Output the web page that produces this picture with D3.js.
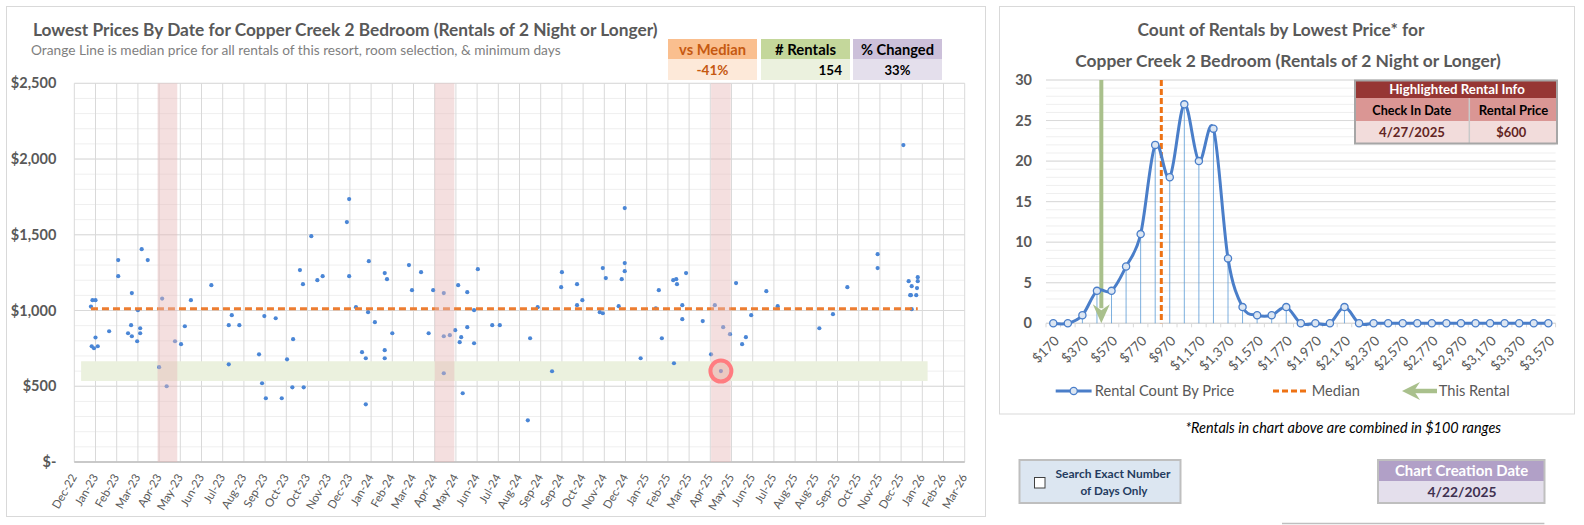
<!DOCTYPE html>
<html><head><meta charset="utf-8">
<script src="https://cdn.jsdelivr.net/npm/d3@7"></script>
<style>
html,body{margin:0;padding:0;background:#fff;}
svg{display:block;font-family:Lato,"Open Sans",sans-serif;}
</style></head><body>
<svg id="c" width="1584" height="525"></svg>
<script>
// ---------------- DATA ----------------
const rentalDates = [
"2023-01-16","2023-01-18","2023-01-22","2023-01-17","2023-01-20","2023-01-22","2023-01-25","2023-02-09","2023-02-21","2023-02-21",
"2023-03-06","2023-03-10","2023-03-11","2023-03-11","2023-03-18","2023-03-19","2023-03-22","2023-03-22","2023-03-24","2023-04-01",
"2023-04-16","2023-04-20","2023-04-26","2023-05-07","2023-05-15","2023-05-20","2023-05-28","2023-06-24","2023-07-17","2023-07-17",
"2023-07-21","2023-07-31","2023-08-26","2023-08-30","2023-09-02","2023-09-04","2023-09-17","2023-09-25","2023-10-02","2023-10-09",
"2023-10-10","2023-10-19","2023-10-23","2023-10-24","2023-11-03","2023-11-11","2023-11-18","2023-12-20","2023-12-23","2023-12-23",
"2024-01-01","2024-01-09","2024-01-14","2024-01-14","2024-01-17","2024-01-18","2024-01-26","2024-02-08","2024-02-08","2024-02-08",
"2024-02-11","2024-02-18","2024-03-11","2024-03-15","2024-03-27","2024-04-06","2024-04-12","2024-04-26","2024-04-26","2024-04-26",
"2024-05-04","2024-05-11","2024-05-15","2024-05-17","2024-05-19","2024-05-21","2024-05-27","2024-05-27","2024-06-05","2024-06-05",
"2024-06-10","2024-06-29","2024-07-09","2024-08-15","2024-08-18","2024-08-28","2024-09-16","2024-09-28","2024-09-29","2024-10-19",
"2024-10-19","2024-10-26","2024-11-18","2024-11-22","2024-11-22","2024-11-26","2024-12-13","2024-12-17","2024-12-21","2024-12-21",
"2024-12-21","2025-01-11","2025-01-31","2025-02-04","2025-02-08","2025-02-23","2025-02-24","2025-02-27","2025-02-28","2025-03-07",
"2025-03-07","2025-03-12","2025-04-03","2025-04-14","2025-04-19","2025-04-27","2025-04-30","2025-05-09","2025-05-17","2025-05-25",
"2025-05-30","2025-06-06","2025-06-26","2025-07-11","2025-09-04","2025-09-22","2025-10-11","2025-11-20","2025-11-20","2025-12-24",
"2025-12-31","2026-01-02","2026-01-03","2026-01-04","2026-01-04","2026-01-10","2026-01-11","2026-01-12","2026-01-12"
];
const rentalPrices = [
1026,1068,1068,764,751,822,764,863,1333,1227,
850,903,1115,830,797,1002,883,850,1405,1333,
626,1079,500,797,778,896,1068,1167,903,645,
969,903,711,520,963,421,949,421,678,493,
811,1267,1174,493,1491,1200,1227,1584,1736,1227,
1022,725,685,381,989,1326,923,1247,738,685,
1207,850,1300,1134,1253,850,1134,1115,830,586,
837,870,1167,791,824,454,1121,890,1002,784,
1273,903,903,275,817,1022,599,1154,1253,1174,
1035,1068,989,982,1280,1214,1029,1207,1676,1313,
1260,685,1015,1134,817,1200,652,1207,1174,1035,
943,1247,930,711,1035,600,890,844,1181,778,
824,969,1128,1029,883,976,1154,1372,1280,2092,
1194,1101,1101,1161,1009,1101,1148,1194,1220
];
const medianPrice = 1012;
const highlightDate = "2025-04-27";
const highlightPrice = 600;
const seasonYears = [2023, 2024, 2025];
const seasonWindowDays = 13;
const priceBandLow = 535, priceBandHigh = 665;

const xAxisStart = "2022-12-25", xAxisEnd = "2026-03-15", xTickStepDays = 28;
const xTickLabels = ["Dec-22","Jan-23","Feb-23","Mar-23","Apr-23","May-23","Jun-23","Jul-23","Aug-23","Sep-23","Oct-23","Oct-23","Nov-23","Dec-23",
"Jan-24","Feb-24","Mar-24","Apr-24","May-24","Jun-24","Jul-24","Aug-24","Sep-24","Sep-24","Oct-24","Nov-24","Dec-24",
"Jan-25","Feb-25","Mar-25","Apr-25","May-25","Jun-25","Jul-25","Aug-25","Aug-25","Sep-25","Oct-25","Nov-25","Dec-25",
"Jan-26","Feb-26","Mar-26"];
const yTickValues = [0,500,1000,1500,2000,2500];
const yTickLabels = ["$-","$500","$1,000","$1,500","$2,000","$2,500"];

const kpiLabels = ["vs Median","# Rentals","% Changed"];
const kpiValues = ["-41%","154","33%"];

const priceBins = ["$170","$270","$370","$470","$570","$670","$770","$870","$970","$1,070","$1,170","$1,270","$1,370","$1,470","$1,570","$1,670","$1,770","$1,870","$1,970","$2,070","$2,170","$2,270","$2,370","$2,470","$2,570","$2,670","$2,770","$2,870","$2,970","$3,070","$3,170","$3,270","$3,370","$3,470","$3,570"];
const rentalCounts = [0,0,1,4,4,7,11,22,18,27,20,24,8,2,1,1,2,0,0,0,2,0,0,0,0,0,0,0,0,0,0,0,0,0,0];
const countTicks = [0,5,10,15,20,25,30];
const chartCreationDate = "4/22/2025";

// ---------------- HELPERS ----------------
const svg = d3.select("#c");
const parse = d3.timeParse("%Y-%m-%d");
const GRAY = "#595959";
function fit(sel, w){
  const n = sel.node(); const cur = n.getComputedTextLength();
  if (cur > 0) sel.attr("font-size", parseFloat(sel.attr("font-size")) * w / cur);
  return sel;
}
function txt(x, y, s, o){
  o = o || {};
  const t = svg.append("text").attr("x",x).attr("y",y).attr("dy","0.35em")
    .attr("text-anchor",o.anchor||"start").attr("fill",o.fill||GRAY)
    .attr("font-size",o.size||13).attr("font-weight",o.bold?"bold":"normal")
    .attr("font-style",o.italic?"italic":"normal").text(s);
  if (o.w) fit(t, o.w);
  return t;
}

// panels
svg.append("rect").attr("x",6.5).attr("y",6.5).attr("width",979).attr("height",510).attr("fill","#fff").attr("stroke","#D9D9D9");
svg.append("rect").attr("x",999.5).attr("y",6.5).attr("width",575).attr("height",407.5).attr("fill","#fff").attr("stroke","#D9D9D9");

// ---- left chart ----
txt(33, 29.5, "Lowest Prices By Date for Copper Creek 2 Bedroom (Rentals of 2 Night or Longer)", {bold:true, size:16, w:625});
txt(31, 50, "Orange Line is median price for all rentals of this resort, room selection, & minimum days", {size:13, fill:"#7F7F7F", w:530});

const kpiX = [668, 761, 853], kpiW = [89, 89, 89];
const kpiHead = ["#FABF8F","#C4D79B","#CCC0DA"], kpiBody = ["#FDE9D9","#EBF1DE","#E4DFEC"];
const kpiColor = ["#C65911","#000","#000"];
const kpiLabW = [67, 61, 73], kpiValW = [32, 23.5, 26];
kpiLabels.forEach((lab,i)=>{
  svg.append("rect").attr("x",kpiX[i]).attr("y",39).attr("width",kpiW[i]).attr("height",20).attr("fill",kpiHead[i]);
  svg.append("rect").attr("x",kpiX[i]).attr("y",59).attr("width",kpiW[i]).attr("height",21).attr("fill",kpiBody[i]);
  txt(kpiX[i]+kpiW[i]/2, 50, lab, {anchor:"middle", bold:true, size:14.5, fill:kpiColor[i], w:kpiLabW[i]});
  const right = i===1;
  txt(right ? kpiX[i]+kpiW[i]-8 : kpiX[i]+kpiW[i]/2, 70.5, kpiValues[i],
      {anchor: right?"end":"middle", bold:true, size:15, fill:kpiColor[i], w:kpiValW[i]});
});

const L = {left:74.3, right:964.7, top:83.3, bottom:462};
const start = parse(xAxisStart), end = parse(xAxisEnd);
const x = d3.scaleTime().domain([start,end]).range([L.left,L.right]);
const y = d3.scaleLinear().domain([0,2500]).range([L.bottom,L.top]);
const tickDates = xTickLabels.map((d,i)=>d3.timeDay.offset(start,i*xTickStepDays));

const gL = svg.append("g");
gL.selectAll(".minor").data(d3.range(0,2501,100)).join("line")
  .attr("x1",L.left).attr("x2",L.right).attr("y1",d=>y(d)).attr("y2",d=>y(d)).attr("stroke","#EFEFEF");
gL.selectAll(".vg").data(tickDates).join("line")
  .attr("x1",d=>x(d)).attr("x2",d=>x(d)).attr("y1",L.top).attr("y2",L.bottom).attr("stroke","#D9D9D9");
gL.selectAll(".major").data(yTickValues).join("line")
  .attr("x1",L.left).attr("x2",L.right).attr("y1",d=>y(d)).attr("y2",d=>y(d)).attr("stroke","#D9D9D9");
gL.append("line").attr("x1",L.left).attr("x2",L.right).attr("y1",L.bottom).attr("y2",L.bottom).attr("stroke","#BFBFBF").attr("stroke-width",1.3);

const yAx = gL.append("g").attr("transform",`translate(${L.left},0)`)
  .call(d3.axisLeft(y).tickValues(yTickValues).tickFormat((d,i)=>yTickLabels[i]).tickSize(0).tickPadding(18));
yAx.select(".domain").remove();
yAx.selectAll("text").attr("font-family","Lato").attr("font-size",14.5).attr("font-weight","bold").attr("fill",GRAY);

const xAx = gL.append("g").attr("transform",`translate(0,${L.bottom})`)
  .call(d3.axisBottom(x).tickValues(tickDates).tickFormat((d,i)=>xTickLabels[i]).tickSize(0));
xAx.select(".domain").remove();
xAx.selectAll("text").attr("x",0).attr("y",0).attr("dy","0.35em")
  .attr("transform","translate(-1,13) rotate(-60)").style("text-anchor","end")
  .attr("font-family","Lato").attr("font-size",11.5).attr("fill",GRAY);

const pts = rentalDates.map((d,i)=>({date:parse(d),price:rentalPrices[i]}));
const firstDate = d3.min(pts,d=>d.date), lastDate = d3.max(pts,d=>d.date);

const bandA = d3.timeDay.offset(firstDate,-seasonWindowDays), bandB = d3.timeDay.offset(lastDate,seasonWindowDays);
gL.append("rect").attr("x",x(bandA)).attr("y",y(priceBandHigh)).attr("width",x(bandB)-x(bandA))
  .attr("height",y(priceBandLow)-y(priceBandHigh)).attr("fill","#EBF1DE");

gL.selectAll(".pt").data(pts).join("circle").attr("cx",d=>x(d.date)).attr("cy",d=>y(d.price)).attr("r",2.1).attr("fill","#4A86D6");

gL.append("line").attr("x1",x(firstDate)).attr("x2",x(lastDate)).attr("y1",y(medianPrice)).attr("y2",y(medianPrice))
  .attr("stroke","#ED7D31").attr("stroke-width",3).attr("stroke-dasharray","7,4");

const hl = parse(highlightDate);
seasonYears.forEach(yr=>{
  const c = new Date(yr, hl.getMonth(), hl.getDate());
  const a = d3.timeDay.offset(c,-seasonWindowDays), b = d3.timeDay.offset(c,seasonWindowDays);
  gL.append("rect").attr("x",x(a)).attr("y",L.top).attr("width",x(b)-x(a)).attr("height",L.bottom-L.top)
    .attr("fill","#E6B8B7").attr("opacity",0.45);
});
gL.append("circle").attr("cx",x(hl)).attr("cy",y(highlightPrice)).attr("r",10.5)
  .attr("fill","rgba(255,124,128,0.15)").attr("stroke","#FF7C80").attr("stroke-width",4);

// ---- right chart ----
txt(1281, 29.5, "Count of Rentals by Lowest Price* for", {anchor:"middle", bold:true, size:16, w:287});
txt(1288, 61, "Copper Creek 2 Bedroom (Rentals of 2 Night or Longer)", {anchor:"middle", bold:true, size:16, w:426});

const R = {left:1046, right:1555.6, top:80, bottom:323.3};
const xR = d3.scalePoint().domain(priceBins).range([R.left,R.right]).padding(0.5);
const yR = d3.scaleLinear().domain([0,30]).range([R.bottom,R.top]);
const priceX = d3.scaleLinear().domain([270, 270+100*(priceBins.length-1)]).range([xR(priceBins[0]), xR(priceBins[priceBins.length-1])]);

const gR = svg.append("g");
gR.selectAll(".rminor").data(d3.range(0,31,1)).join("line")
  .attr("x1",R.left).attr("x2",R.right).attr("y1",d=>yR(d)).attr("y2",d=>yR(d)).attr("stroke","#EFEFEF");
gR.selectAll(".rmajor").data(countTicks).join("line")
  .attr("x1",R.left).attr("x2",R.right).attr("y1",d=>yR(d)).attr("y2",d=>yR(d)).attr("stroke","#D9D9D9");
gR.append("line").attr("x1",R.left).attr("x2",R.right).attr("y1",R.bottom).attr("y2",R.bottom).attr("stroke","#D9D9D9").attr("stroke-width",1.2);
const step = xR.step();
gR.selectAll(".rtick").data(d3.range(priceBins.length+1)).join("line")
  .attr("x1",d=>R.left+d*step).attr("x2",d=>R.left+d*step).attr("y1",R.bottom).attr("y2",R.bottom+4).attr("stroke","#D9D9D9");

const yRAx = gR.append("g").attr("transform",`translate(${R.left},0)`)
  .call(d3.axisLeft(yR).tickValues(countTicks).tickSize(0).tickPadding(14));
yRAx.select(".domain").remove();
yRAx.selectAll("text").attr("font-family","Lato").attr("font-size",14.5).attr("font-weight","bold").attr("fill",GRAY);

const xRAx = gR.append("g").attr("transform",`translate(0,${R.bottom})`)
  .call(d3.axisBottom(xR).tickValues(priceBins.filter((d,i)=>i%2===0)).tickSize(0));
xRAx.select(".domain").remove();
xRAx.selectAll("text").attr("x",0).attr("y",0).attr("dy","0.35em")
  .attr("transform","translate(3,15) rotate(-45)").style("text-anchor","end")
  .attr("font-family","Lato").attr("font-size",13.5).attr("fill",GRAY);

const hist = priceBins.map((b,i)=>({bin:b,count:rentalCounts[i]}));
gR.selectAll(".drop").data(hist.filter(d=>d.count>0)).join("line")
  .attr("x1",d=>xR(d.bin)).attr("x2",d=>xR(d.bin)).attr("y1",d=>yR(d.count)).attr("y2",R.bottom)
  .attr("stroke","#5B9BD5").attr("stroke-width",0.8);

const ax = priceX(highlightPrice);
gR.append("line").attr("x1",ax).attr("x2",ax).attr("y1",R.top).attr("y2",R.bottom-15).attr("stroke","#A9C08C").attr("stroke-width",4);
gR.append("path").attr("d",`M${ax},${R.bottom} L${ax-8.5},${R.bottom-19} L${ax},${R.bottom-13} L${ax+8.5},${R.bottom-19} Z`).attr("fill","#A9C08C");

const mx = priceX(medianPrice);
gR.append("line").attr("x1",mx).attr("x2",mx).attr("y1",R.top).attr("y2",R.bottom)
  .attr("stroke","#EE7214").attr("stroke-width",3).attr("stroke-dasharray","6,3");

gR.append("path").datum(hist).attr("fill","none").attr("stroke","#4A7EC9").attr("stroke-width",3)
  .attr("d",d3.line().x(d=>xR(d.bin)).y(d=>yR(d.count)).curve(d3.curveCardinal.tension(0)));
gR.selectAll(".mk").data(hist).join("circle").attr("cx",d=>xR(d.bin)).attr("cy",d=>yR(d.count)).attr("r",3.6)
  .attr("fill","#DCE6F2").attr("stroke","#4A7EC9").attr("stroke-width",1.3);

// highlighted info table
const T = {x:1355, y:80.5, w:202, c:1469.3};
svg.append("rect").attr("x",T.x).attr("y",T.y).attr("width",T.w).attr("height",17.5).attr("fill","#963634");
svg.append("rect").attr("x",T.x).attr("y",T.y+17.5).attr("width",T.w).attr("height",23).attr("fill","#DA9694");
svg.append("rect").attr("x",T.x).attr("y",T.y+40.5).attr("width",T.w).attr("height",22.5).attr("fill","#F2DCDB");
svg.append("line").attr("x1",T.c).attr("x2",T.c).attr("y1",T.y+17.5).attr("y2",T.y+63).attr("stroke","#C9C9C9").attr("stroke-width",1.5);
svg.append("rect").attr("x",T.x).attr("y",T.y).attr("width",T.w).attr("height",63).attr("fill","none").attr("stroke","#A6A6A6").attr("stroke-width",2);
txt((T.x+T.x+T.w)/2+1, 89.3, "Highlighted Rental Info", {anchor:"middle", bold:true, size:12.5, fill:"#fff", w:135.7});
txt(1411.8, 110.7, "Check In Date", {anchor:"middle", bold:true, size:12.5, fill:"#000", w:79});
txt(1513.5, 110.7, "Rental Price", {anchor:"middle", bold:true, size:12.5, fill:"#000", w:69.6});
txt(1412, 132.3, d3.timeFormat("%-m/%-d/%Y")(hl), {anchor:"middle", bold:true, size:15, fill:"#632523", w:66});
txt(1511.3, 132.3, "$"+highlightPrice, {anchor:"middle", bold:true, size:15, fill:"#632523", w:30});

// legend
const LG = 391;
svg.append("line").attr("x1",1055.7).attr("x2",1091.6).attr("y1",LG).attr("y2",LG).attr("stroke","#4A7EC9").attr("stroke-width",3);
svg.append("circle").attr("cx",1073.7).attr("cy",LG).attr("r",3.6).attr("fill","#DCE6F2").attr("stroke","#4A7EC9").attr("stroke-width",1.3);
txt(1094.8, LG, "Rental Count By Price", {size:13.5, w:139.6});
svg.append("line").attr("x1",1273).attr("x2",1306).attr("y1",LG).attr("y2",LG).attr("stroke","#EE7214").attr("stroke-width",3).attr("stroke-dasharray","6,3");
txt(1311.8, LG, "Median", {size:13.5, w:48});
svg.append("line").attr("x1",1414).attr("x2",1437).attr("y1",LG).attr("y2",LG).attr("stroke","#A9C08C").attr("stroke-width",4.5);
svg.append("path").attr("d",`M1402,${LG} L1420,${LG-9} L1414,${LG} L1420,${LG+9} Z`).attr("fill","#A9C08C");
txt(1438.7, LG, "This Rental", {size:13.5, w:71});

// footnote
txt(1185.4, 428.3, "*Rentals in chart above are combined in $100 ranges", {italic:true, size:13, fill:"#000", w:316});

// checkbox box
svg.append("rect").attr("x",1019.5).attr("y",460).attr("width",161).attr("height",43).attr("fill","#DCE6F1").attr("stroke","#BFBFBF").attr("stroke-width",2);
svg.append("rect").attr("x",1034.5).attr("y",477.5).attr("width",10.5).attr("height",10.5).attr("fill","#fff").attr("stroke","#404040");
txt(1113, 474, "Search Exact Number", {anchor:"middle", bold:true, size:11, fill:"#243B5E", w:115});
txt(1114, 490.7, "of Days Only", {anchor:"middle", bold:true, size:11, fill:"#243B5E", w:67});

// chart creation date
svg.append("rect").attr("x",1378).attr("y",460).attr("width",166.5).attr("height",21).attr("fill","#B1A0C7");
svg.append("rect").attr("x",1378).attr("y",481).attr("width",166.5).attr("height",22).attr("fill","#E4DFEC");
svg.append("rect").attr("x",1378).attr("y",460).attr("width",166.5).attr("height",43).attr("fill","none").attr("stroke","#BFBFBF").attr("stroke-width",2);
txt(1461.6, 471, "Chart Creation Date", {anchor:"middle", bold:true, size:14, fill:"#fff", w:133.6});
txt(1462, 492.5, chartCreationDate, {anchor:"middle", bold:true, size:15, fill:"#3F3151", w:69});

svg.append("line").attr("x1",1282).attr("x2",1544.4).attr("y1",523.5).attr("y2",523.5).attr("stroke","#BFBFBF").attr("stroke-width",1.5);
</script>
</body></html>
